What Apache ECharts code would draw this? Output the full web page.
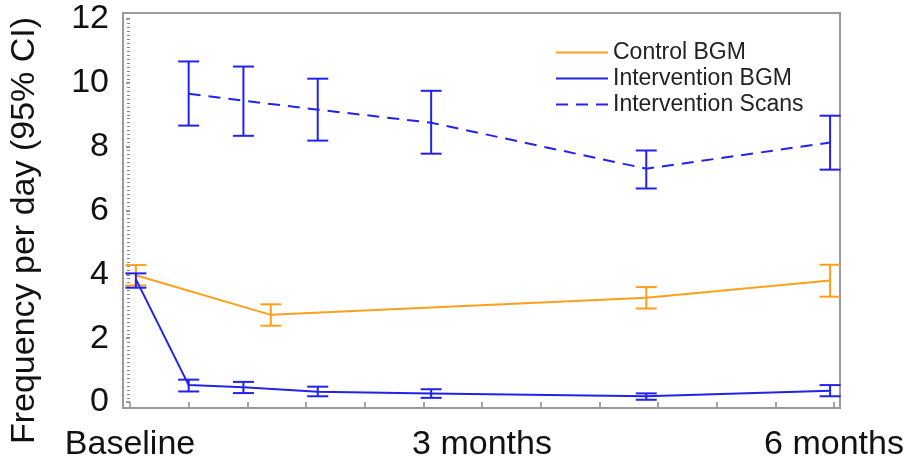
<!DOCTYPE html>
<html>
<head>
<meta charset="utf-8">
<script src="https://cdn.jsdelivr.net/npm/echarts@6/dist/echarts.min.js"></script>
<style>
html,body{margin:0;padding:0;background:#fff;}
#chart{width:910px;height:462px;}
</style>
</head>
<body>
<div id="chart"></div>
<script>
// ---- Data (x in days from baseline) ----
const seriesNames = ['Control BGM', 'Intervention BGM', 'Intervention Scans'];

const controlX    = [1.5, 36, 132, 179];
const controlMean = [3.97, 2.73, 3.27, 3.81];
const controlLo   = [3.65, 2.39, 2.93, 3.30];
const controlHi   = [4.29, 3.06, 3.60, 4.30];

const bgmX    = [1.5, 15, 29, 48, 77, 132, 179];
const bgmMean = [3.85, 0.53, 0.46, 0.32, 0.27, 0.18, 0.35];
const bgmLo   = [3.58, 0.33, 0.28, 0.18, 0.13, 0.07, 0.18];
const bgmHi   = [4.03, 0.70, 0.63, 0.48, 0.40, 0.27, 0.53];

const scanX    = [15, 29, 48, 77, 132, 179];
const scanMean = [9.66, 9.44, 9.16, 8.75, 7.31, 8.13];
const scanLo   = [8.66, 8.34, 8.19, 7.78, 6.69, 7.28];
const scanHi   = [10.67, 10.51, 10.13, 9.75, 7.88, 8.97];

const xTickValues = [0, 90, 180];
const xTickLabels = ['Baseline', '3 months', '6 months'];
const yAxisTitle = 'Frequency per day (95% CI)';

// ---- Styling ----
const ORANGE = '#FF9F1C';
const BLUE = '#2222EE';
const FONT = 'Liberation Sans, Arial, sans-serif';

function pairs(xs, ys) { return xs.map((x, i) => [x, ys[i]]); }
function triples(xs, lo, hi) { return xs.map((x, i) => [x, lo[i], hi[i]]); }

function errorBarSeries(name, color, data) {
  return {
    name: name,
    type: 'custom',
    data: data,
    encode: { x: 0, y: [1, 2] },
    z: 3,
    silent: true,
    renderItem: function (params, api) {
      const x = api.value(0);
      const pLo = api.coord([x, api.value(1)]);
      const pHi = api.coord([x, api.value(2)]);
      const hw = 10.5;
      const style = { stroke: color, lineWidth: 2, fill: null };
      return {
        type: 'group',
        children: [
          { type: 'line', shape: { x1: pLo[0], y1: pLo[1], x2: pHi[0], y2: pHi[1] }, style: style },
          { type: 'line', shape: { x1: pLo[0] - hw, y1: pLo[1], x2: pLo[0] + hw, y2: pLo[1] }, style: style },
          { type: 'line', shape: { x1: pHi[0] - hw, y1: pHi[1], x2: pHi[0] + hw, y2: pHi[1] }, style: style }
        ]
      };
    }
  };
}

const chart = echarts.init(document.getElementById('chart'), null, { renderer: 'canvas' });

chart.setOption({
  backgroundColor: '#fff',
  animation: false,
  textStyle: { fontFamily: FONT },
  grid: { left: 129, right: 76, top: 19, bottom: 59 },
  graphic: [{
    type: 'rect',
    shape: { x: 123, y: 13, width: 717, height: 395 },
    style: { fill: null, stroke: '#9a9a9a', lineWidth: 2 },
    z: 0,
    silent: true
  }],
  legend: {
    orient: 'vertical',
    left: 550,
    top: 36,
    itemWidth: 52,
    itemHeight: 14,
    itemGap: 3,
    data: seriesNames,
    itemStyle: { opacity: 0 },
    textStyle: { fontFamily: FONT, fontSize: 23, color: '#222', lineHeight: 23 },
    selectedMode: false
  },
  xAxis: {
    type: 'value',
    min: 0,
    max: 180,
    interval: 15,
    offset: 5,
    axisLine: { show: false },
    axisTick: { show: true, inside: false, length: 5, lineStyle: { color: '#888', width: 1.5 } },
    splitLine: { show: false },
    axisLabel: {
      margin: 21,
      fontSize: 34,
      color: '#111',
      fontFamily: FONT,
      showMinLabel: true,
      showMaxLabel: true,
      formatter: function (v) {
        const i = xTickValues.indexOf(v);
        return i >= 0 ? xTickLabels[i] : '';
      }
    }
  },
  yAxis: {
    type: 'value',
    min: 0,
    max: 12,
    interval: 2,
    offset: 6,
    name: yAxisTitle,
    nameLocation: 'middle',
    nameRotate: 90,
    nameGap: 82,
    nameTextStyle: { fontSize: 34, color: '#111', fontFamily: FONT, padding: [0, 40, 0, 0] },
    axisLine: { show: false },
    axisTick: { show: true, inside: false, length: 4, lineStyle: { color: '#777', width: 1.5 } },
    minorTick: { show: true, splitNumber: 16, length: 3, lineStyle: { color: '#888', width: 1 } },
    splitLine: { show: false },
    axisLabel: { margin: 15, fontSize: 34, color: '#111', fontFamily: FONT }
  },
  series: [
    {
      name: 'Control BGM',
      type: 'line',
      data: pairs(controlX, controlMean),
      symbol: 'none',
      lineStyle: { color: ORANGE, width: 2 },
      itemStyle: { color: ORANGE },
      z: 2
    },
    errorBarSeries('Control BGM CI', ORANGE, triples(controlX, controlLo, controlHi)),
    {
      name: 'Intervention BGM',
      type: 'line',
      data: pairs(bgmX, bgmMean),
      symbol: 'none',
      lineStyle: { color: BLUE, width: 2 },
      itemStyle: { color: BLUE },
      z: 4
    },
    errorBarSeries('Intervention BGM CI', BLUE, triples(bgmX, bgmLo, bgmHi)),
    {
      name: 'Intervention Scans',
      type: 'line',
      data: pairs(scanX, scanMean),
      symbol: 'none',
      lineStyle: { color: BLUE, width: 2, type: [12, 8] },
      itemStyle: { color: BLUE },
      z: 4
    },
    errorBarSeries('Intervention Scans CI', BLUE, triples(scanX, scanLo, scanHi))
  ]
});
</script>
</body>
</html>
